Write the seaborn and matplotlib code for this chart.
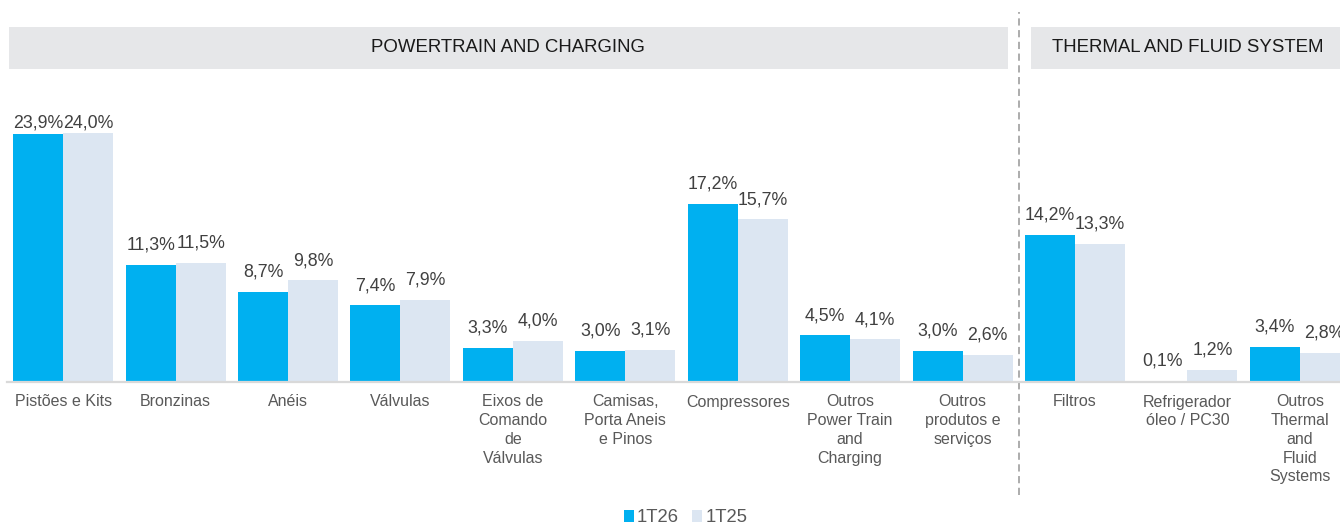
import matplotlib
matplotlib.use("Agg")
import matplotlib.pyplot as plt
import matplotlib.transforms as mtransforms
from matplotlib.patches import Rectangle, Patch
from matplotlib.lines import Line2D
import seaborn as sns
import pandas as pd

categories = [
    "Pistões e Kits", "Bronzinas", "Anéis", "Válvulas",
    "Eixos de\nComando\nde\nVálvulas", "Camisas,\nPorta Aneis\ne Pinos",
    "Compressores", "Outros\nPower Train\nand\nCharging",
    "Outros\nprodutos e\nserviços",
    "Filtros", "Refrigerador\nóleo / PC30",
    "Outros\nThermal\nand\nFluid\nSystems",
]
values_1t26 = [23.9, 11.3, 8.7, 7.4, 3.3, 3.0, 17.2, 4.5, 3.0, 14.2, 0.1, 3.4]
values_1t25 = [24.0, 11.5, 9.8, 7.9, 4.0, 3.1, 15.7, 4.1, 2.6, 13.3, 1.2, 2.8]
series = ["1T26", "1T25"]
sections = ["POWERTRAIN AND CHARGING", "THERMAL AND FLUID SYSTEM"]

BLUE = "#00B0F0"
LIGHT = "#DCE6F2"
HEADER = "#E6E7E9"
TXT = "#595959"
VAL = "#404040"

df = pd.DataFrame({
    "cat": categories * 2,
    "serie": [series[0]] * len(categories) + [series[1]] * len(categories),
    "val": values_1t26 + values_1t25,
})

sns.set_theme(style="white")
plt.rcParams["font.family"] = ["Liberation Sans", "DejaVu Sans"]

W, H = 1340, 525
fig = plt.figure(figsize=(W / 100, H / 100), dpi=100)
ax = fig.add_axes([7 / W, 143 / H, 1349 / W, 269.75 / H])

sns.barplot(data=df, x="cat", y="val", hue="serie", hue_order=series,
            order=categories, palette=[BLUE, LIGHT], width=0.89,
            saturation=1, ax=ax, legend=False, edgecolor="none")

ax.set_xlim(-0.5, len(categories) - 0.5)
ax.set_ylim(0, 26)
ax.set_xlabel("")
ax.set_ylabel("")
ax.set_yticks([])
for s in ["top", "right", "left"]:
    ax.spines[s].set_visible(False)
ax.spines["bottom"].set_color("#D9D9D9")
ax.spines["bottom"].set_linewidth(1.6)
ax.tick_params(axis="x", length=0, pad=9, labelsize=11.5, labelcolor=TXT)
for lbl in ax.get_xticklabels():
    lbl.set_linespacing(1.31)
    lbl.set_verticalalignment("top")

# value labels
bw = 0.89 / 2
for i, (a, b) in enumerate(zip(values_1t26, values_1t25)):
    for v, dx in ((a, -bw / 2), (b, bw / 2)):
        y = min(v + 1.45, 24.5)
        ax.text(i + dx, y, f"{v:.1f}%".replace(".", ","), ha="center",
                va="baseline", fontsize=12.8, color=VAL, clip_on=False)

# section headers
bt = mtransforms.blended_transform_factory(ax.transData, fig.transFigure)
y0, y1 = 1 - 69 / H, 1 - 27 / H
ax.add_patch(Rectangle((-0.485, y0), 8.89, y1 - y0, transform=bt,
                       facecolor=HEADER, edgecolor="none", clip_on=False))
ax.add_patch(Rectangle((8.605, y0), 3.5, y1 - y0, transform=bt,
                       facecolor=HEADER, edgecolor="none", clip_on=False))
ax.text(3.96, (y0 + y1) / 2, sections[0], transform=bt, ha="center",
        va="center", fontsize=13.4, color="#1A1A1A")
ax.text(10.0, (y0 + y1) / 2, sections[1], transform=bt, ha="center",
        va="center", fontsize=13.4, color="#1A1A1A")

# dashed separator
ax.add_line(Line2D([8.5, 8.5], [1 - 495 / H, 1 - 12 / H], transform=bt,
                   color="#A6A6A6", linestyle=(0, (4, 2.5)), linewidth=1.3,
                   clip_on=False))

handles = [Patch(facecolor=BLUE, edgecolor="none"),
           Patch(facecolor=LIGHT, edgecolor="none")]
fig.legend(handles, series, loc="center", bbox_to_anchor=(0.5115, 1 - 518 / H),
           ncol=2, frameon=False, handlelength=0.55, handleheight=0.55,
           handletextpad=0.15, columnspacing=0.75, fontsize=13.3,
           labelcolor=TXT, borderpad=0)

fig.savefig("out.png", dpi=100)
